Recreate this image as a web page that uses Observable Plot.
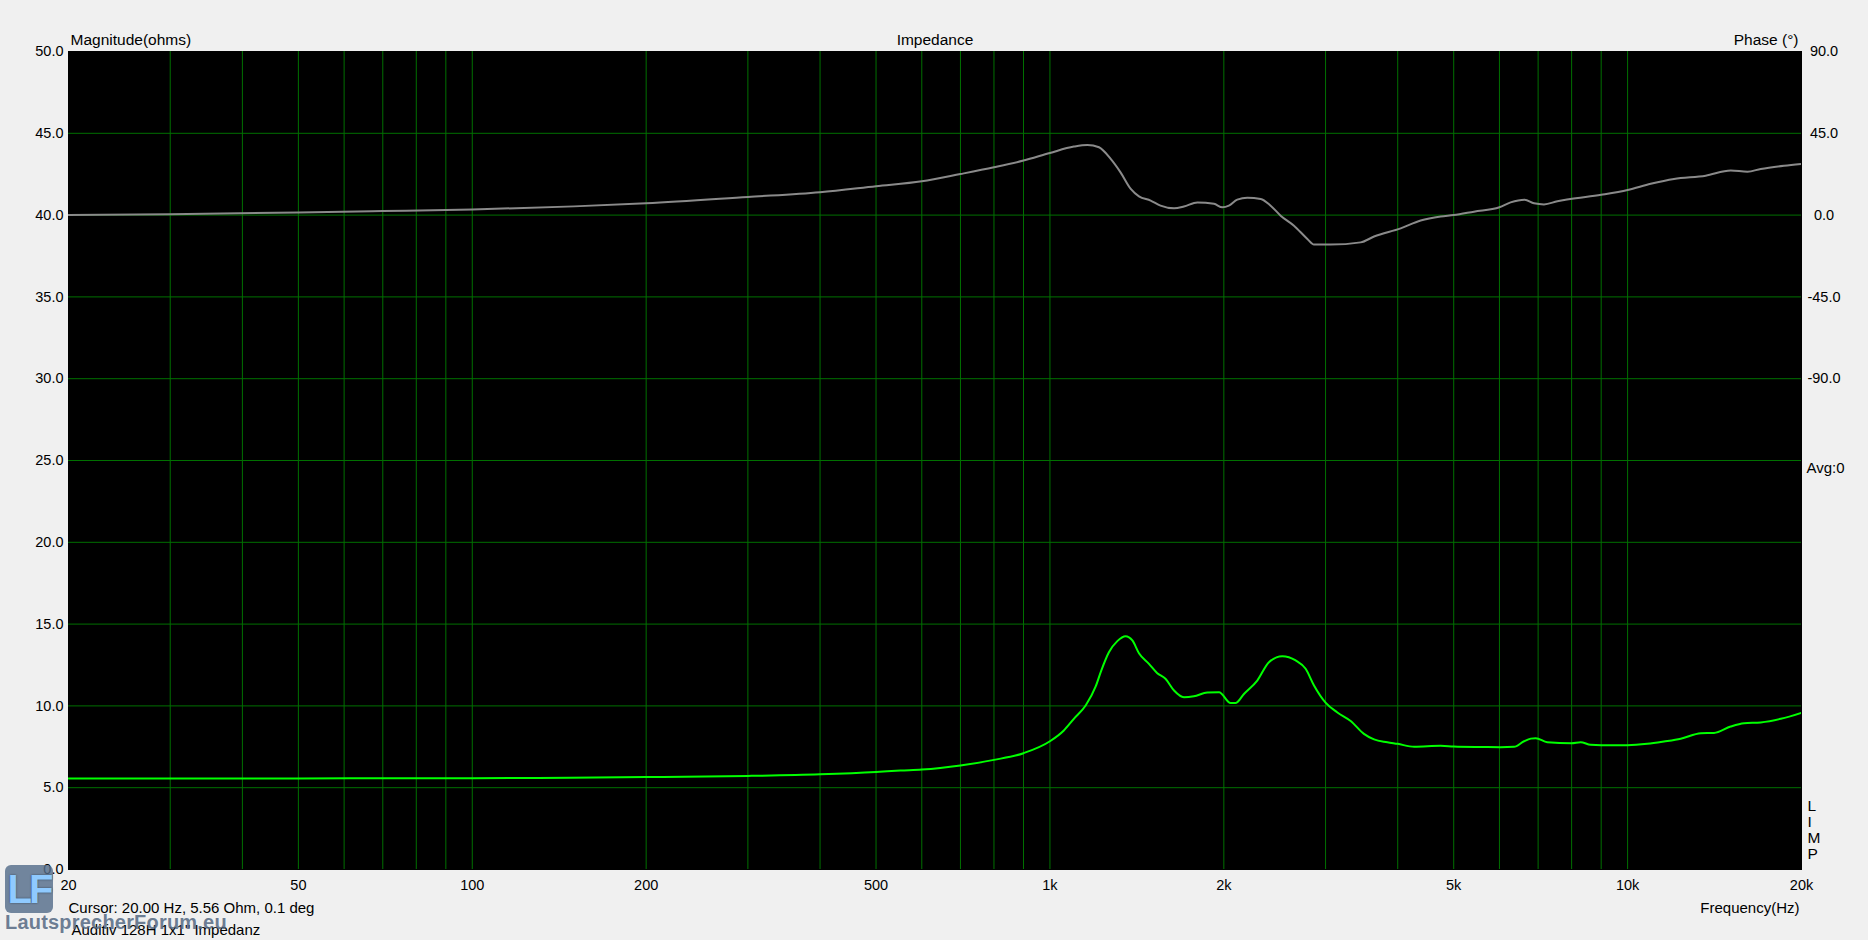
<!DOCTYPE html>
<html><head><meta charset="utf-8">
<script src="https://cdn.jsdelivr.net/npm/d3@7"></script>
<script src="https://cdn.jsdelivr.net/npm/@observablehq/plot@0.6"></script>
<style>
html,body{margin:0;padding:0;background:#f0f0f0;overflow:hidden;}
#wrap{position:relative;width:1868px;height:940px;}
#logo{position:absolute;left:5px;top:865px;width:48px;height:48px;border-radius:6px;background:rgba(84,108,138,0.82);
  font:bold 40px 'Liberation Sans',Arial,sans-serif;color:#8fcaff;line-height:48px;text-align:center;letter-spacing:-3px;
  text-shadow:0 0 2px #2c3e55;}
#wmtext{position:absolute;left:5px;top:911px;font:bold 20px 'Liberation Sans',Arial,sans-serif;color:rgba(84,104,130,0.85);letter-spacing:0.2px;white-space:nowrap;}
</style></head><body><div id="wrap"></div>
<script>
// Magnitude (ohms) vs frequency (Hz)
const magFreq = [20, 50, 100, 130, 200, 300, 400, 500, 551, 600, 700, 800, 900, 1000, 1057, 1100, 1153, 1200, 1227, 1265, 1308, 1352, 1389, 1426, 1484, 1534, 1585, 1640, 1706, 1775, 1873, 1962, 2055, 2098, 2167, 2285, 2394, 2525, 2663, 2771, 2865, 3000, 3145, 3316, 3496, 3640, 3838, 4000, 4270, 4746, 5000, 5560, 6029, 6360, 6619, 6800, 6932, 7260, 8000, 8293, 8630, 9000, 10000, 10820, 11560, 12360, 13390, 14110, 15080, 15910, 17000, 18420, 20000];
const magOhm  = [5.56, 5.57, 5.58, 5.6, 5.65, 5.72, 5.82, 5.96, 6.05, 6.11, 6.36, 6.7, 7.11, 7.84, 8.5, 9.21, 10.02, 11.19, 12.16, 13.28, 13.96, 14.26, 14.0, 13.22, 12.57, 12.0, 11.66, 10.94, 10.53, 10.59, 10.82, 10.84, 10.17, 10.18, 10.73, 11.55, 12.67, 13.04, 12.78, 12.27, 11.25, 10.2, 9.6, 9.08, 8.29, 7.95, 7.78, 7.68, 7.5, 7.56, 7.52, 7.49, 7.48, 7.5, 7.84, 8.0, 8.03, 7.78, 7.72, 7.78, 7.62, 7.6, 7.6, 7.68, 7.82, 7.99, 8.33, 8.35, 8.74, 8.94, 8.99, 9.21, 9.58];
// Phase (degrees) vs frequency (Hz)
const phaseFreq = [20, 30, 50, 70, 100, 150, 200, 300, 400, 500, 600, 700, 800, 900, 1000, 1100, 1161, 1216, 1274, 1325, 1380, 1426, 1494, 1554, 1640, 1706, 1800, 1923, 1988, 2041, 2110, 2196, 2317, 2410, 2508, 2645, 2790, 2865, 3061, 3450, 3640, 4048, 4383, 4746, 5000, 5421, 6000, 6273, 6633, 6886, 7166, 7557, 7908, 9000, 10000, 10965, 12030, 13650, 15085, 16120, 17000, 18660, 20000];
const phaseDeg  = [0.1, 0.5, 1.4, 2.2, 3.1, 4.8, 6.5, 10, 12.6, 15.9, 18.6, 22.6, 26.3, 30, 34.2, 37.7, 38.6, 37.3, 30.9, 23.5, 14.4, 10.3, 8, 5.2, 3.7, 4.7, 7, 6.2, 4.3, 5.2, 8.5, 9.5, 8.9, 5.2, -0.3, -5.8, -13.1, -16.2, -16.2, -15, -11.8, -7.3, -3.0, -0.8, 0, 1.9, 4.3, 7.0, 8.5, 6.5, 5.9, 7.6, 8.7, 11.2, 13.8, 17.2, 19.9, 21.7, 24.5, 23.9, 25.4, 27.2, 28.2];

const xTicks = [20, 50, 100, 200, 500, 1000, 2000, 5000, 10000, 20000];
const xTickLabels = ["20", "50", "100", "200", "500", "1k", "2k", "5k", "10k", "20k"];
const xGrid = [30, 40, 50, 60, 70, 80, 90, 100, 200, 300, 400, 500, 600, 700, 800, 900, 1000, 2000, 3000, 4000, 5000, 6000, 7000, 8000, 9000, 10000];
const yTicks = [0, 5, 10, 15, 20, 25, 30, 35, 40, 45, 50];
const yGrid = [5, 10, 15, 20, 25, 30, 35, 40, 45];
const phaseTicks = [90, 45, 0, -45, -90];

const mag = magFreq.map((f, i) => ({f, v: magOhm[i]}));
const ph = phaseFreq.map((f, i) => ({f, p: phaseDeg[i]}));
// phase axis: 90° at 50 ohm, 45° per 5 ohm
const phaseToY = p => 40 + p / 9;
const yToPhase = y => (y - 40) * 9;
const labelOf = new Map(xTicks.map((t, i) => [t, xTickLabels[i]]));

const font = "'Liberation Sans', Arial, sans-serif";
const grid = "#007000";

const chart = Plot.plot({
  width: 1868, height: 940,
  marginLeft: 68, marginRight: 67, marginTop: 51, marginBottom: 71,
  style: {background: "#f0f0f0", fontFamily: font, fontSize: "15px", color: "#000", overflow: "visible"},
  x: {type: "log", domain: [20, 20000]},
  y: {domain: [0, 50]},
  marks: [
    Plot.frame({fill: "black", stroke: "black"}),
    Plot.gridX(xGrid, {stroke: grid, strokeOpacity: 1, strokeWidth: 1}),
    Plot.gridY(yGrid, {stroke: grid, strokeOpacity: 1, strokeWidth: 1}),
    Plot.axisY(yTicks, {anchor: "left", tickSize: 0, tickPadding: 5, tickFormat: d => d.toFixed(1), label: null, fontSize: 14.5}),
    Plot.axisY(phaseTicks.map(phaseToY), {anchor: "right", tickSize: 0, tickPadding: 0, dx: 22.5, textAnchor: "middle",
      tickFormat: v => yToPhase(v).toFixed(1), label: null, fontSize: 14.5}),
    Plot.axisX(xTicks, {anchor: "bottom", tickSize: 0, tickPadding: 10, tickFormat: d => labelOf.get(d), label: null, fontSize: 14.5}),
    Plot.line(ph, {x: "f", y: d => phaseToY(d.p), stroke: "#8a8a8a", strokeWidth: 2, curve: "monotone-x", clip: true}),
    Plot.line(mag, {x: "f", y: "v", stroke: "#00ff00", strokeWidth: 2, curve: "monotone-x", clip: true}),
    Plot.text(["Magnitude(ohms)"], {text: d => d, frameAnchor: "top-left", textAnchor: "start", dx: 2, dy: -17.5, fontSize: 15.5}),
    Plot.text(["Impedance"], {text: d => d, frameAnchor: "top", dy: -17.5, fontSize: 15.5}),
    Plot.text(["Phase (°)"], {text: d => d, frameAnchor: "top-right", textAnchor: "end", dx: -3, dy: -17.5, fontSize: 15.5}),
    Plot.text([25], {y: d => d, text: () => "Avg:0", frameAnchor: "right", textAnchor: "start", dx: 5, dy: 8, fontSize: 15}),
    Plot.text(["L\nI\nM\nP"], {text: d => d, frameAnchor: "bottom-right", textAnchor: "start", dx: 6, dy: -11, lineHeight: 1.02, fontSize: 15.5}),
    Plot.text(["Cursor: 20.00 Hz, 5.56 Ohm, 0.1 deg"], {text: d => d, frameAnchor: "bottom-left", textAnchor: "start", dx: 0, dy: 43, fontSize: 15}),
    Plot.text(["Auditiv 128H 1x1\" Impedanz"], {text: d => d, frameAnchor: "bottom-left", textAnchor: "start", dx: 3, dy: 65, fontSize: 15}),
    Plot.text(["Frequency(Hz)"], {text: d => d, frameAnchor: "bottom-right", textAnchor: "end", dx: -2, dy: 43, fontSize: 15})
  ]
});
const wrap = document.getElementById("wrap");
wrap.appendChild(chart);
const logo = document.createElement("div"); logo.id = "logo"; logo.textContent = "LF"; wrap.appendChild(logo);
const wm = document.createElement("div"); wm.id = "wmtext"; wm.textContent = "LautsprecherForum.eu"; wrap.appendChild(wm);
</script></body></html>
